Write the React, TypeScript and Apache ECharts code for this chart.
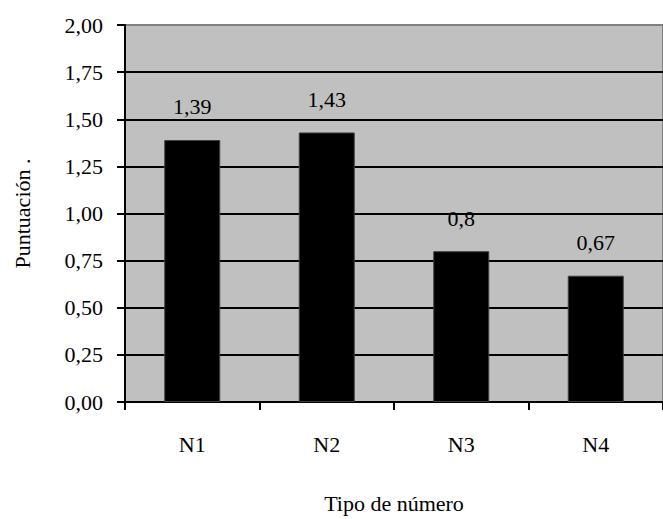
import React, { useEffect, useRef } from "react";
import * as echarts from "echarts";

const categories = ["N1", "N2", "N3", "N4"];
const values = [1.39, 1.43, 0.8, 0.67];
const yTicks = [0, 0.25, 0.5, 0.75, 1, 1.25, 1.5, 1.75, 2];

const FONT = "Times New Roman";

export default function App() {
  const ref = useRef<HTMLDivElement>(null);
  useEffect(() => {
    document.body.style.margin = "0";
    document.body.style.overflow = "hidden";
    if (!ref.current) return;
    const chart = echarts.init(ref.current, undefined, { renderer: "svg" });
    const splitColors = yTicks.map((_, i) => (i === yTicks.length - 1 ? "#808080" : "#000000"));
    chart.setOption({
      animation: false,
      backgroundColor: "#ffffff",
      textStyle: { fontFamily: FONT, color: "#000" },
      grid: {
        left: 125,
        top: 25,
        width: 548,
        height: 379,
        show: true,
        backgroundColor: "#c0c0c0",
        borderColor: "#808080",
        borderWidth: 2,
      },
      xAxis: {
        type: "category",
        data: categories,
        boundaryGap: true,
        name: "Tipo de número",
        nameLocation: "middle",
        nameGap: 90,
        nameTextStyle: { fontFamily: FONT, fontSize: 22, color: "#000" },
        axisLine: { show: true, lineStyle: { color: "#000", width: 2 } },
        axisTick: { show: true, length: 8, lineStyle: { color: "#000", width: 2 } },
        axisLabel: { margin: 31, fontFamily: FONT, fontSize: 22, color: "#000" },
        splitLine: { show: false },
      },
      yAxis: {
        type: "value",
        min: 0,
        max: 2,
        interval: 0.25,
        name: "Puntuación .",
        nameLocation: "middle",
        nameGap: 92,
        nameTextStyle: { fontFamily: FONT, fontSize: 22, color: "#000" },
        axisLine: { show: true, lineStyle: { color: "#000", width: 2 } },
        axisTick: { show: true, length: 8, lineStyle: { color: "#000", width: 2 } },
        axisLabel: {
          margin: 22,
          fontFamily: FONT,
          fontSize: 22,
          color: "#000",
          formatter: (v: number) => v.toFixed(2).replace(".", ","),
        },
        splitLine: { show: true, lineStyle: { color: splitColors, width: 2 } },
      },
      series: [
        {
          type: "bar",
          data: values,
          barWidth: 56,
          itemStyle: { color: "#000000", borderColor: "#404040", borderWidth: 1 },
          label: {
            show: true,
            position: "top",
            distance: 22,
            fontFamily: FONT,
            fontSize: 22,
            color: "#000",
            formatter: (p: any) => String(p.value).replace(".", ","),
          },
        },
      ],
    });
    return () => chart.dispose();
  }, []);
  return <div ref={ref} style={{ width: 663, height: 519 }} />;
}
